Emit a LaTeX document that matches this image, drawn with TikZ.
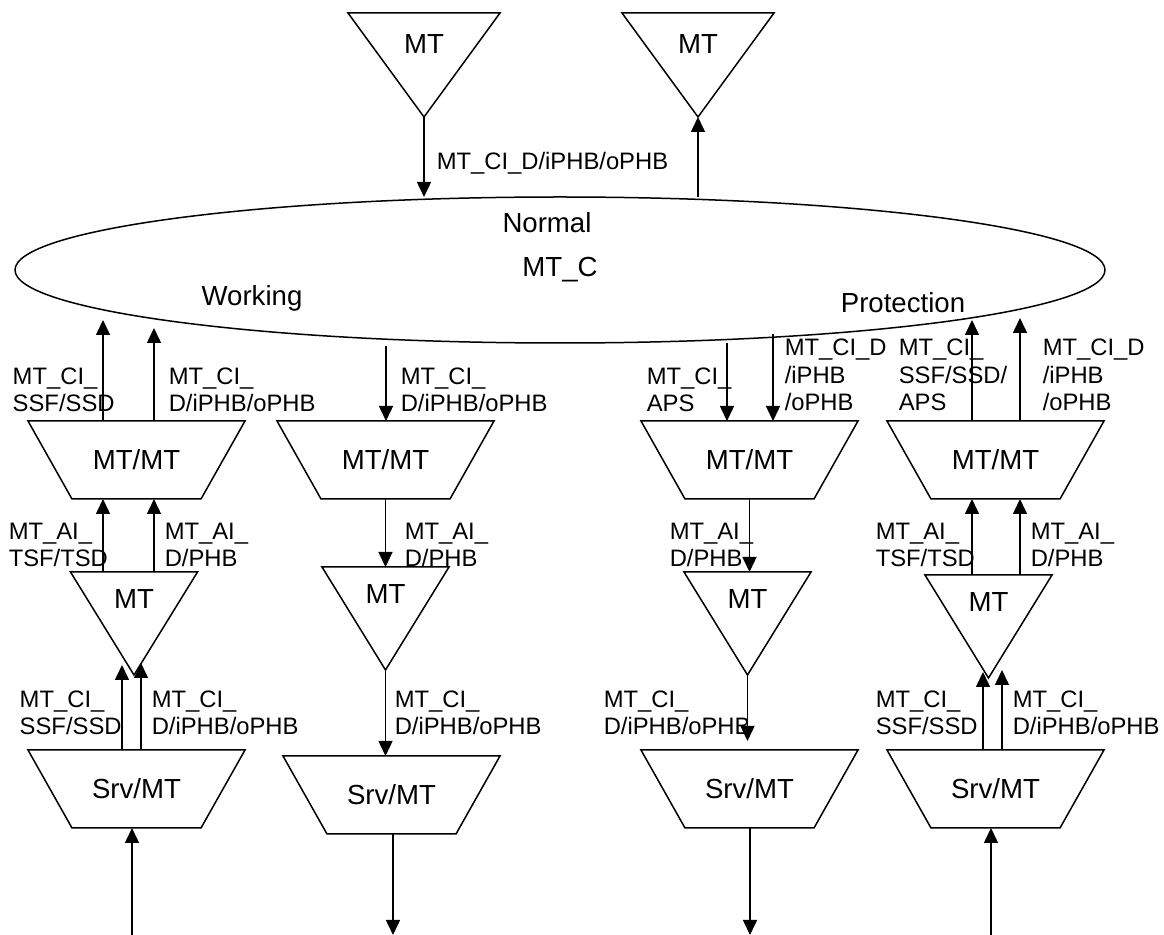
\documentclass[tikz,border=0pt]{standalone}
\usepackage{fontspec}
\setmainfont{Liberation Sans}
\usetikzlibrary{arrows.meta, shapes.geometric, calc}

\newcommand{\bigfont}{\fontsize{13.8}{16}\selectfont}
\newcommand{\lblfont}{\fontsize{11.9}{13.8}\selectfont}
% outline of an adaptation function, drawn round its node
\newcommand{\adaptbox}[1]{\draw (#1.north west) -- (#1.north east)
  -- ([xshift=-22pt]#1.south east) -- ([xshift=22pt]#1.south west) -- cycle;}

\tikzset{
  adapt/.style={rectangle, minimum width=108.5pt, minimum height=39pt, inner sep=0pt, outer sep=0pt, font=\bigfont},
  term/.style={draw, isosceles triangle, shape border rotate=-90, isosceles triangle stretches,
    minimum width=63.5pt, minimum height=51.5pt, inner sep=0pt, outer sep=0pt, anchor=apex, font=\bigfont},
  termtop/.style={term, minimum width=76pt, minimum height=52pt},
  conn/.style={draw, ellipse, minimum width=545pt, minimum height=73pt, inner sep=0pt, outer sep=0pt, font=\bigfont},
  lbl/.style={anchor=west, align=left, inner sep=0pt, font=\lblfont},
  word/.style={inner sep=0pt, font=\bigfont}
}

\begin{document}
\begin{tikzpicture}[x=0.5pt, y=-0.5pt, line width=0.75pt, >={Triangle[width=7pt,length=7.5pt]}]
  \useasboundingbox (0,0) rectangle (1164,935);

  % connection function
  \node[conn] (mtc) at (560,270) {MT\_C};
  \node[word] (normal) at (547,223) {Normal};
  \node[word] (working) at (252,298) {Working};
  \node[word] (protection) at (903,303) {Protection};

  % upper trail terminations
  \node[termtop] (ttTopIn) at (424,117) {MT};
  \node[termtop] (ttTopOut) at (698,117) {MT};
  \draw[->] (ttTopIn.apex) -- (ttTopIn.apex |- mtc.north);
  \draw[->] (ttTopOut.apex |- mtc.north) -- (ttTopOut.apex);
  \node[lbl] (lblTop) at (436,163) {MT\_CI\_D/iPHB/oPHB};

  % working, source side
  \node[adapt] (adpW) at (136.5,460) {MT/MT};
  \node[term] (ttW) at (134,675) {MT};
  \node[adapt] (srvW) at (136.5,789) {Srv/MT};
  \adaptbox{adpW}
  \adaptbox{srvW}
  \coordinate (eW1) at (103,320);
  \coordinate (eW2) at (154,328);
  \coordinate (tW1) at ($(ttW.apex)+(-12,-10)$);
  \coordinate (tW2) at ($(ttW.apex)+(7,-12)$);
  \coordinate (inW) at (132,935);
  \draw[->] (eW1 |- adpW.north) -- (eW1);
  \draw[->] (eW2 |- adpW.north) -- (eW2);
  \draw[->] (eW1 |- ttW.left corner) -- (eW1 |- adpW.south);
  \draw[->] (eW2 |- ttW.left corner) -- (eW2 |- adpW.south);
  \draw[->] (tW1 |- srvW.north) -- (tW1);
  \draw[->] (tW2 |- srvW.north) -- (tW2);
  \draw[->] (inW) -- (inW |- srvW.south);
  \node[lbl] (lblW1) at (12,390) {MT\_CI\_\\SSF/SSD};
  \node[lbl] (lblW2) at (168,390) {MT\_CI\_\\D/iPHB/oPHB};
  \node[lbl] (lblW3) at (8,545) {MT\_AI\_\\TSF/TSD};
  \node[lbl] (lblW4) at (164,545) {MT\_AI\_\\D/PHB};
  \node[lbl] (lblW5) at (19,713) {MT\_CI\_\\SSF/SSD};
  \node[lbl] (lblW6) at (151,713) {MT\_CI\_\\D/iPHB/oPHB};

  % working, sink side
  \node[adapt] (adpN) at (385.5,460) {MT/MT};
  \node[term] (ttN) at (385.5,670) {MT};
  \node[adapt] (srvN) at (391.5,795) {Srv/MT};
  \adaptbox{adpN}
  \adaptbox{srvN}
  \coordinate (eN1) at (386,346);
  \coordinate (outN) at (393,935);
  \draw[->] (eN1) -- (eN1 |- adpN.north);
  \draw[->] (adpN.south) -- (adpN.south |- ttN.left corner);
  \draw[->] (ttN.apex) -- (ttN.apex |- srvN.north);
  \draw[->] (outN |- srvN.south) -- (outN);
  \node[lbl] (lblN1) at (400,390) {MT\_CI\_\\D/iPHB/oPHB};
  \node[lbl] (lblN2) at (404,545) {MT\_AI\_\\D/PHB};
  \node[lbl] (lblN3) at (394,713) {MT\_CI\_\\D/iPHB/oPHB};

  % protection, sink side
  \node[adapt] (adpP) at (749.5,460) {MT/MT};
  \node[term] (ttP) at (747.5,675) {MT};
  \node[adapt] (srvP) at (749.5,789) {Srv/MT};
  \adaptbox{adpP}
  \adaptbox{srvP}
  \coordinate (eP1) at (727,343);
  \coordinate (eP2) at (773,334);
  \coordinate (outP) at (750,935);
  \draw[->] (eP1) -- (eP1 |- adpP.north);
  \draw[->] (eP2) -- (eP2 |- adpP.north);
  \draw[->] (adpP.south) -- (adpP.south |- ttP.left corner);
  \draw[->, shorten >=4.5pt] (ttP.apex) -- (ttP.apex |- srvP.north);
  \draw[->] (outP |- srvP.south) -- (outP);
  \node[lbl] (lblP1) at (646,390) {MT\_CI\_\\APS};
  \node[lbl] (lblP2) at (784,375) {MT\_CI\_D\\/iPHB\\/oPHB};
  \node[lbl] (lblP3) at (669,545) {MT\_AI\_\\D/PHB};
  \node[lbl] (lblP4) at (603,713) {MT\_CI\_\\D/iPHB/oPHB};

  % protection, source side
  \node[adapt] (adpQ) at (995.5,460) {MT/MT};
  \node[term] (ttQ) at (988.5,678) {MT};
  \node[adapt] (srvQ) at (995.5,789) {Srv/MT};
  \adaptbox{adpQ}
  \adaptbox{srvQ}
  \coordinate (eQ1) at (972,320);
  \coordinate (eQ2) at (1020,318);
  \coordinate (tQ1) at ($(ttQ.apex)+(-5.5,-6)$);
  \coordinate (tQ2) at ($(ttQ.apex)+(13.5,-8)$);
  \coordinate (inQ) at (991,935);
  \draw[->] (eQ1 |- adpQ.north) -- (eQ1);
  \draw[->] (eQ2 |- adpQ.north) -- (eQ2);
  \draw[->] (eQ1 |- ttQ.left corner) -- (eQ1 |- adpQ.south);
  \draw[->] (eQ2 |- ttQ.left corner) -- (eQ2 |- adpQ.south);
  \draw[->] (tQ1 |- srvQ.north) -- (tQ1);
  \draw[->] (tQ2 |- srvQ.north) -- (tQ2);
  \draw[->] (inQ) -- (inQ |- srvQ.south);
  \node[lbl] (lblQ1) at (898,375) {MT\_CI\_\\SSF/SSD/\\APS};
  \node[lbl] (lblQ2) at (1042,375) {MT\_CI\_D\\/iPHB\\/oPHB};
  \node[lbl] (lblQ3) at (875,545) {MT\_AI\_\\TSF/TSD};
  \node[lbl] (lblQ4) at (1030,545) {MT\_AI\_\\D/PHB};
  \node[lbl] (lblQ5) at (875,713) {MT\_CI\_\\SSF/SSD};
  \node[lbl] (lblQ6) at (1012,713) {MT\_CI\_\\D/iPHB/oPHB};
\end{tikzpicture}
\end{document}
